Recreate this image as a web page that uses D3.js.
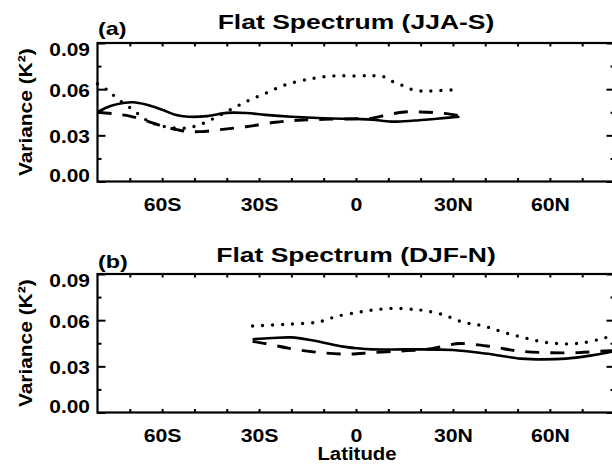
<!DOCTYPE html>
<html><head><meta charset="utf-8">
<script src="https://cdn.jsdelivr.net/npm/d3@7"></script>
<style>
body{margin:0;background:#fff}
svg{display:block;background:#fff}
text{font-family:"Liberation Sans",Arial,Helvetica,sans-serif;font-weight:bold;fill:#000}
</style>
</head><body>
<svg id="chart" width="612" height="464"></svg>
<script>
// ---------- tick / label data ----------
const latLabelTicks = [-60, -30, 0, 30, 60];
const latTickLabels = ["60S", "30S", "0", "30N", "60N"];
const latMinorTicks = [-70, -60, -50, -40, -30, -20, -10, 0, 10, 20, 30, 40, 50, 60, 70];
const varMajorTicks = [0, 0.03, 0.06, 0.09];
const varTickLabels = ["0.00", "0.03", "0.06", "0.09"];
const varMinorTicks = [0.015, 0.045, 0.075];
const panelLetters = ["(a)", "(b)"];
const panelTitles = ["Flat Spectrum (JJA-S)", "Flat Spectrum (DJF-N)"];
const yAxisTitle = "Variance (K\u00B2)";
const xAxisTitle = "Latitude";

// ---------- panel (a) JJA-S ----------
const jjaSolidLat = [-80, -76, -72, -69, -65, -60, -56, -52, -46, -40, -34, -28, -20, -10, 0, 5, 11, 18, 25, 32];
const jjaSolidVar = [0.0450, 0.0490, 0.0510, 0.0515, 0.0500, 0.0466, 0.0434, 0.0421, 0.0425, 0.0446, 0.0445, 0.0433, 0.0421, 0.0411, 0.0406, 0.0402, 0.0389, 0.0396, 0.0408, 0.0421];
const jjaDashLat = [-80, -75, -70, -65, -60, -55, -52, -48, -42, -34, -25, -18, -10, 0, 5, 10, 15, 20, 25, 29, 32];
const jjaDashVar = [0.0450, 0.0440, 0.0425, 0.0395, 0.0360, 0.0335, 0.0325, 0.0324, 0.0337, 0.0356, 0.0385, 0.0398, 0.0404, 0.0408, 0.0412, 0.0435, 0.0452, 0.0452, 0.0447, 0.0438, 0.0428];
const jjaDotLat = [-80, -77, -74, -69, -64, -59, -54, -50, -45, -39, -34, -28, -22, -13, -7, 0, 5, 8.5, 11, 14, 17, 20, 23, 30];
const jjaDotVar = [0.0635, 0.0595, 0.0541, 0.0465, 0.0389, 0.0356, 0.0346, 0.0358, 0.0400, 0.0465, 0.0519, 0.0573, 0.0627, 0.0671, 0.0686, 0.0686, 0.0688, 0.0681, 0.0653, 0.0627, 0.0600, 0.0588, 0.0588, 0.0595];

// ---------- panel (b) DJF-N ----------
const djfSolidLat = [-32, -26, -20, -14, -8, -4, 0, 5, 16, 30, 40, 51, 58, 65, 72, 78, 80];
const djfSolidVar = [0.0476, 0.0484, 0.0488, 0.0471, 0.0445, 0.0428, 0.0418, 0.0410, 0.0410, 0.0406, 0.0383, 0.0350, 0.0345, 0.0350, 0.0368, 0.0390, 0.0398];
const djfDashLat = [-32, -26, -21, -12, -3, 5, 14, 22, 27, 32, 42, 50, 59, 69, 77, 80];
const djfDashVar = [0.0462, 0.0440, 0.0418, 0.0391, 0.0380, 0.0389, 0.0400, 0.0411, 0.0430, 0.0448, 0.0428, 0.0400, 0.0389, 0.0389, 0.0400, 0.0402];
const djfDotLat = [-32, -22, -12.5, -9.4, -6.3, 0, 5.4, 11.6, 17.8, 21.5, 27.1, 33.3, 39.5, 45.7, 51.9, 58, 64.3, 70.5, 76.7, 80];
const djfDotVar = [0.0562, 0.0573, 0.0586, 0.0601, 0.0623, 0.0649, 0.0666, 0.0677, 0.0670, 0.0661, 0.0634, 0.0586, 0.0562, 0.0521, 0.0487, 0.0458, 0.0446, 0.0454, 0.0483, 0.0505];

const panelSeries = [
  [{lat: jjaSolidLat, v: jjaSolidVar, kind: "solid"},
   {lat: jjaDashLat, v: jjaDashVar, kind: "dash"},
   {lat: jjaDotLat, v: jjaDotVar, kind: "dot"}],
  [{lat: djfSolidLat, v: djfSolidVar, kind: "solid"},
   {lat: djfDashLat, v: djfDashVar, kind: "dash"},
   {lat: djfDotLat, v: djfDotVar, kind: "dot"}]
];

// ---------- layout ----------
const svg = d3.select("#chart");
const left = 97.5, right = 614.5;
const panels = [
  {top: 43, bottom: 181.5, titleY: 28.5, letterY: 34.5},
  {top: 274, bottom: 412.5, titleY: 261.7, letterY: 268.2}
];
const x = d3.scaleLinear().domain([-80, 80]).range([left, right]);
const lineStyles = {
  solid: {w: 2.6, dash: null, cap: "butt"},
  dash: {w: 2.9, dash: "14,11", cap: "butt"},
  dot: {w: 3.4, dash: "0,10", cap: "round"}
};

function stretchText(sel, sx) {
  sel.each(function() {
    const t = d3.select(this);
    const tx = +t.attr("x") || 0, ty = +t.attr("y") || 0;
    t.attr("x", 0).attr("y", 0)
     .attr("transform", `translate(${tx},${ty}) scale(${sx},1)`);
  });
}

panels.forEach((p, i) => {
  const y = d3.scaleLinear().domain([0, 0.09]).range([p.bottom, p.top]);
  const g = svg.append("g");

  // curves
  const line = d3.line()
    .x(d => x(d[0])).y(d => y(d[1]))
    .curve(d3.curveCatmullRom.alpha(0.5));
  panelSeries[i].forEach(s => {
    const st = lineStyles[s.kind];
    g.append("path")
      .datum(s.lat.map((l, k) => [l, s.v[k]]))
      .attr("d", line)
      .attr("fill", "none")
      .attr("stroke", "#000")
      .attr("stroke-width", st.w)
      .attr("stroke-linecap", st.cap)
      .attr("stroke-linejoin", "round")
      .attr("stroke-dasharray", st.dash);
  });

  // frame
  g.append("rect")
    .attr("x", left).attr("y", p.top)
    .attr("width", right - left).attr("height", p.bottom - p.top)
    .attr("fill", "none").attr("stroke", "#000").attr("stroke-width", 2.2);

  const tickStyle = sel => {
    sel.select(".domain").remove();
    sel.selectAll(".tick line").attr("stroke", "#000").attr("stroke-width", 2);
  };
  // x minor ticks, bottom & top (inward)
  g.append("g").attr("transform", `translate(0,${p.bottom})`)
    .call(d3.axisBottom(x).tickValues(latMinorTicks).tickSize(-3.5).tickFormat(""))
    .call(tickStyle);
  g.append("g").attr("transform", `translate(0,${p.top})`)
    .call(d3.axisTop(x).tickValues(latMinorTicks).tickSize(-3.5).tickFormat(""))
    .call(tickStyle);
  // y ticks left & right
  g.append("g").attr("transform", `translate(${left},0)`)
    .call(d3.axisLeft(y).tickValues(varMajorTicks).tickSize(-8).tickFormat(""))
    .call(tickStyle);
  g.append("g").attr("transform", `translate(${left},0)`)
    .call(d3.axisLeft(y).tickValues(varMinorTicks).tickSize(-4).tickFormat(""))
    .call(tickStyle);
  g.append("g").attr("transform", `translate(${right},0)`)
    .call(d3.axisRight(y).tickValues(varMajorTicks).tickSize(-8).tickFormat(""))
    .call(tickStyle);
  g.append("g").attr("transform", `translate(${right},0)`)
    .call(d3.axisRight(y).tickValues(varMinorTicks).tickSize(-4).tickFormat(""))
    .call(tickStyle);

  // y tick labels
  const yl = g.append("g").attr("transform", `translate(${left},0)`)
    .call(d3.axisLeft(y).tickValues(varMajorTicks)
      .tickFormat((d, k) => varTickLabels[k]).tickSize(0).tickPadding(7.5));
  yl.select(".domain").remove();
  yl.selectAll("text")
    .attr("font-size", 19).attr("font-family", null).attr("fill", "#000")
    .attr("dy", d => d === 0.09 ? "0.64em" : (d === 0 ? "-0.02em" : "0.37em"));
  stretchText(yl.selectAll("text"), 1.1);

  // x tick labels
  const xl = g.append("g").attr("transform", `translate(0,${p.bottom})`)
    .call(d3.axisBottom(x).tickValues(latLabelTicks)
      .tickFormat((d, k) => latTickLabels[k]).tickSize(0));
  xl.select(".domain").remove();
  xl.selectAll("text")
    .attr("font-size", 19).attr("font-family", null).attr("fill", "#000")
    .attr("y", 29.3).attr("dy", 0);
  stretchText(xl.selectAll("text"), 1.12);

  // y axis title
  g.append("text")
    .attr("transform", `translate(31.5,${(p.top + p.bottom) / 2}) rotate(-90) scale(1.1,1)`)
    .attr("text-anchor", "middle")
    .attr("font-size", 19)
    .text(yAxisTitle);

  // panel title
  g.append("text")
    .attr("transform", `translate(${(left + right) / 2},${p.titleY}) scale(1.262,1)`)
    .attr("text-anchor", "middle")
    .attr("font-size", 21)
    .text(panelTitles[i]);

  // panel letter
  g.append("text")
    .attr("transform", `translate(98,${p.letterY}) scale(1.3,1)`)
    .attr("font-size", 18)
    .text(panelLetters[i]);
});

// x axis title
svg.append("text")
  .attr("transform", `translate(357,459.5) scale(1.1,1)`)
  .attr("text-anchor", "middle")
  .attr("font-size", 18.5)
  .text(xAxisTitle);
</script>
</body></html>
